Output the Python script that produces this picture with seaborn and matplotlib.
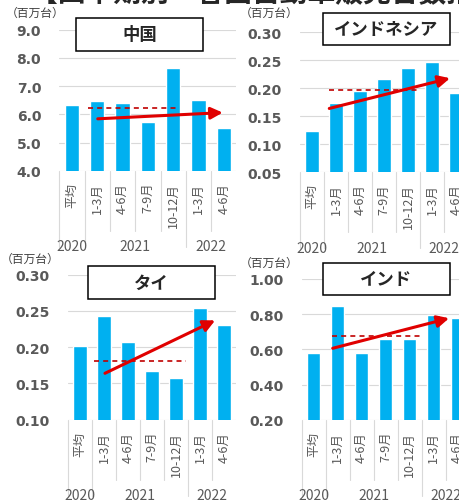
import matplotlib.pyplot as plt
import matplotlib.patches as patches
import seaborn as sns
import pandas as pd

# quarterly car sales (million units)
periods = ["2020平均", "2021Q1", "2021Q2", "2021Q3", "2021Q4", "2022Q1", "2022Q2"]
quarter_labels = ["平均", "1-3月", "4-6月", "7-9月", "10-12月", "1-3月", "4-6月"]
year_labels = ["2020", "2021", "2022"]
year_counts = [1, 4, 2]

china = [6.32, 6.48, 6.39, 5.73, 7.64, 6.51, 5.50]
indonesia = [0.123, 0.173, 0.195, 0.217, 0.237, 0.247, 0.192]
thailand = [0.201, 0.243, 0.207, 0.167, 0.158, 0.254, 0.230]
india = [0.578, 0.848, 0.581, 0.657, 0.661, 0.797, 0.777]

# dashed reference level and trend arrow
china_ref, china_arrow = 6.21, ((1.02, 5.84), (5.96, 6.06))
indonesia_ref, indonesia_arrow = 0.1975, ((0.72, 0.164), (5.75, 0.218))
thailand_ref, thailand_arrow = 0.181, ((1.04, 0.164), (5.63, 0.237))
india_ref, india_arrow = 0.678, ((0.8, 0.606), (5.65, 0.777))

sns.set_style("white")
plt.rcParams['font.family'] = ['Noto Sans CJK JP', 'DejaVu Sans']

W, H = 460, 502
fig = plt.figure(figsize=(W / 100, H / 100), dpi=100)


def fx(x):
    return x / W


def fy(y):
    return 1 - y / H


panels = [
    dict(name="中国", values=china, yticks=[4, 5, 6, 7, 8, 9], fmt="{:.1f}",
         ref=china_ref, ref_x=(0.65, 4.24), arrow=china_arrow,
         ax_px=(59.3, 30.7, 236.4, 171.7), box_px=(76, 19, 203, 52), unit_px=(6, 13)),
    dict(name="インドネシア", values=indonesia, yticks=[0.05, 0.10, 0.15, 0.20, 0.25, 0.30], fmt="{:.2f}",
         ref=indonesia_ref, ref_x=(0.72, 4.5), arrow=indonesia_arrow,
         ax_px=(300, 33.3, 468, 173.3), box_px=(323, 14, 450, 46), unit_px=(240, 13)),
    dict(name="タイ", values=thailand, yticks=[0.10, 0.15, 0.20, 0.25, 0.30], fmt="{:.2f}",
         ref=thailand_ref, ref_x=(0.58, 4.42), arrow=thailand_arrow,
         ax_px=(68, 275.7, 236, 420.7), box_px=(88, 267, 215, 300), unit_px=(1, 259)),
    dict(name="インド", values=india, yticks=[0.20, 0.40, 0.60, 0.80, 1.00], fmt="{:.2f}",
         ref=india_ref, ref_x=(0.76, 4.58), arrow=india_arrow,
         ax_px=(301.5, 280, 469.5, 420.7), box_px=(323, 264, 450, 296), unit_px=(240, 263)),
]

grid_c = "#d9d9d9"
text_c = "#595959"

for p in panels:
    l, t, r, b = p["ax_px"]
    h = b - t
    ax = fig.add_axes([fx(l), fy(b), (r - l) / W, h / H])
    df = pd.DataFrame({"period": periods, "value": p["values"]})
    sns.barplot(data=df, x="period", y="value", color="#00b0f0", saturation=1,
                width=0.56, ax=ax)
    ax.set_xlim(-0.5, 6.5)
    ax.set_ylim(p["yticks"][0], p["yticks"][-1])
    ax.set_yticks(p["yticks"])
    ax.set_yticklabels([p["fmt"].format(v) for v in p["yticks"]], fontfamily="DejaVu Sans",
                       fontweight="bold", fontsize=10, color=text_c)
    ax.tick_params(axis="y", length=0, pad=13)
    ax.set_xticks(range(len(periods)))
    ax.set_xticklabels(quarter_labels, rotation=90, fontsize=9, color=text_c)
    ax.tick_params(axis="x", length=0, pad=8)
    ax.set_xlabel("")
    ax.set_ylabel("")
    ax.grid(axis="y", color=grid_c, lw=0.8)
    ax.set_axisbelow(True)
    for s in ax.spines.values():
        s.set_visible(False)

    # category separators and year row
    group_edges = [-0.5]
    for c in year_counts:
        group_edges.append(group_edges[-1] + c)
    for k in range(len(periods)):
        x = k - 0.5
        length = 76 if x in group_edges else 60
        ax.plot([x, x], [0, -length / h], transform=ax.get_xaxis_transform(),
                color=grid_c, lw=0.8, clip_on=False)
    for i, yl in enumerate(year_labels):
        center = (group_edges[i] + group_edges[i + 1]) / 2
        ax.text(center, -75.5 / h, yl, transform=ax.get_xaxis_transform(),
                ha="center", va="center", fontsize=10, color=text_c)

    ax.plot(p["ref_x"], [p["ref"], p["ref"]], color="#c00000", lw=1.2, ls=(0, (3, 2.5)))
    (x0, y0), (x1, y1) = p["arrow"]
    ax.annotate("", xy=(x1, y1), xytext=(x0, y0),
                arrowprops=dict(arrowstyle="-|>,head_length=0.7,head_width=0.35",
                                color="#e00000", lw=2.2, shrinkA=0, shrinkB=0,
                                mutation_scale=10))

    bx0, by0, bx1, by1 = p["box_px"]
    fig.add_artist(patches.Rectangle((fx(bx0), fy(by1)), (bx1 - bx0) / W, (by1 - by0) / H,
                                     transform=fig.transFigure, facecolor="white",
                                     edgecolor="black", lw=1.1, zorder=5))
    fig.text(fx((bx0 + bx1) / 2), fy((by0 + by1) / 2), p["name"], ha="center", va="center",
             fontsize=12.5, fontweight="bold", zorder=6)
    ux, uy = p["unit_px"]
    fig.text(fx(ux), fy(uy), "（百万台）", ha="left", va="center", fontsize=8.5, color="#404040")

fig.text(fx(30), fy(8), "【四半期別　各国自動車販売台数推移】", ha="left", va="bottom",
         fontsize=20, fontweight="bold", color="#262626")

plt.savefig("out.png", dpi=100)
